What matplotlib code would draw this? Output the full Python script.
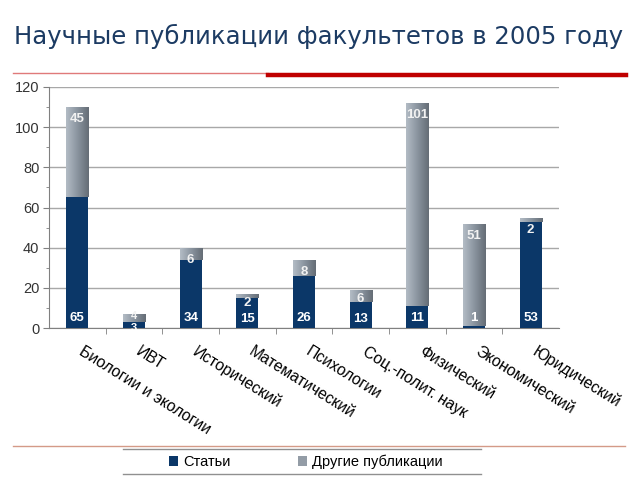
import numpy as np
import matplotlib.pyplot as plt
from matplotlib.lines import Line2D
from matplotlib.patches import Patch
from matplotlib.colors import LinearSegmentedColormap

# faculties and publication counts, 2005
faculties = ['Биологии и экологии', 'ИВТ', 'Исторический', 'Математический',
             'Психологии', 'Соц.-полит. наук', 'Физический', 'Экономический',
             'Юридический']
articles = [65, 3, 34, 15, 26, 13, 11, 1, 53]
other_pubs = [45, 4, 6, 2, 8, 6, 101, 51, 2]

navy = '#0b3768'
gray = '#939ca6'
text_col = '#333333'

plt.rcParams['font.family'] = ['Liberation Sans', 'DejaVu Sans']

fig = plt.figure(figsize=(6.4, 4.8), dpi=100)
ax = fig.add_axes([49/640, 1 - 328/480, 510/640, 241/480])

x = np.arange(len(faculties))
w = 0.39
b1 = ax.bar(x, articles, w, color=navy, zorder=3)
b2 = ax.bar(x, other_pubs, w, bottom=articles, color='none', zorder=3)

# gradient fill for the grey segments
cmap = LinearSegmentedColormap.from_list('g', ['#b3bcc5', '#8a949f', '#656d76'])
grad = np.linspace(0, 1, 64).reshape(1, -1)
for p in b2:
    x0, y0 = p.get_x(), p.get_y()
    im = ax.imshow(grad, extent=[x0, x0 + p.get_width(), y0, y0 + p.get_height()],
                   aspect='auto', cmap=cmap, vmin=0, vmax=1, zorder=3)
    im.set_clip_path(p)

for i in range(len(faculties)):
    top = articles[i] + other_pubs[i]
    if top < 10:
        y1, y2 = 0.2, top - 1.1
        fs = 8
    elif top < 20:
        y1, y2 = 4.5, top - 4.8
        fs = 9.5
    else:
        y1, y2 = 5, top - 6
        fs = 9.5
    ax.text(x[i], y1, str(articles[i]), ha='center', va='center', color='white',
            fontsize=fs, fontweight='bold', zorder=5)
    ax.text(x[i], y2, str(other_pubs[i]), ha='center', va='center',
            color='#f2f2f2', fontsize=fs, fontweight='bold', zorder=5)

ax.set_xlim(-0.5, len(faculties) - 0.5)
ax.set_ylim(0, 120)
ax.set_yticks(np.arange(0, 121, 20))
ax.set_yticks(np.arange(10, 120, 20), minor=True)
ax.yaxis.grid(True, color='#a8a8a8', lw=1)
ax.set_axisbelow(True)
for s in ['top', 'right']:
    ax.spines[s].set_visible(False)
for s in ['left', 'bottom']:
    ax.spines[s].set_color('#808080')
ax.tick_params(axis='y', which='major', length=4, color='#808080',
               labelsize=10.5, labelcolor=text_col, pad=3)
ax.tick_params(axis='y', which='minor', length=2, color='#808080')

ax.set_xticks(np.arange(0.5, len(faculties) - 0.5), minor=True)
ax.set_xticks([])
ax.tick_params(axis='x', which='minor', length=4, color='#808080', direction='out')
for i, name in enumerate(faculties):
    ax.text(x[i] + 0.12, -8, name, rotation=-32, rotation_mode='anchor',
            ha='left', va='top', fontsize=11.3, color='black', clip_on=False)

fig.text(14/640, 1 - 36/480, 'Научные публикации факультетов в 2005 году',
         fontsize=17.6, color='#1c3b63', family='DejaVu Sans', va='center')

# decorative lines
fig.add_artist(Line2D([13/640, 268/640], [1 - 73/480] * 2, color='#e07a7a', lw=1))
fig.add_artist(Line2D([268/640, 626/640], [1 - 75/480] * 2, color='#c00000', lw=3.2))
fig.add_artist(Line2D([13/640, 625/640], [1 - 446/480] * 2, color='#d49a88', lw=1))
fig.add_artist(Line2D([123/640, 481/640], [1 - 449/480] * 2, color='#909090', lw=1))
fig.add_artist(Line2D([123/640, 481/640], [1 - 474/480] * 2, color='#909090', lw=1))

handles = [Patch(facecolor=navy), Patch(facecolor=gray)]
fig.legend(handles, ['Статьи', 'Другие публикации'], ncol=2, frameon=False,
           loc='center', bbox_to_anchor=(306/640, 1 - 462/480), fontsize=10.5,
           handlelength=0.6, handleheight=0.6, handletextpad=0.4, columnspacing=4.6)

fig.savefig('out.png', dpi=100)
